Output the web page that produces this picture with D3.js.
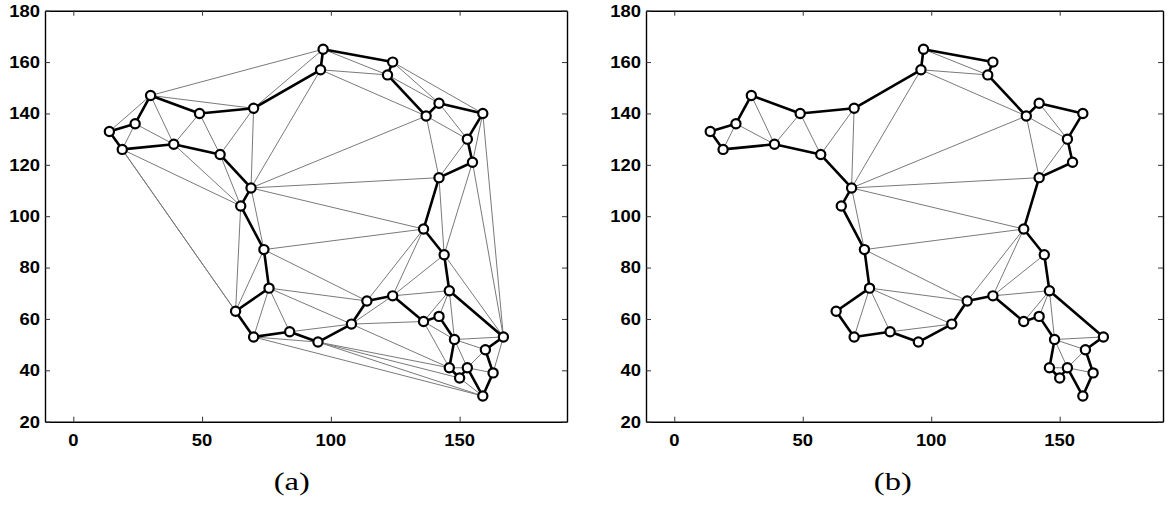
<!DOCTYPE html>
<html>
<head>
<meta charset="utf-8">
<script src="https://cdn.jsdelivr.net/npm/d3@7"></script>
<style>
  html, body { margin: 0; padding: 0; background: #fff; }
  svg { display: block; }
</style>
</head>
<body>
<svg id="fig" width="1172" height="506"></svg>
<script>
// Point set, listed in boundary (tour) order of the characteristic shape
const px = [97, 124, 122, 137, 142, 159, 153, 155, 142, 136, 144, 146, 167, 160, 163, 159,
            153, 150, 146, 148, 142, 136, 124, 114, 108, 95, 84, 70, 63, 76, 74, 65,
            69, 57, 39, 19, 14, 24, 30, 49, 70, 96];
const py = [165, 160, 155, 139, 144, 140, 130, 121, 115, 95, 85, 71, 53, 48, 39, 30,
            41, 37, 41, 52, 61, 59, 69, 67, 58, 51, 55, 53, 63, 72, 87, 104,
            111, 124, 128, 126, 133, 136, 147, 140, 142, 157];

const xTicks = [0, 50, 100, 150];
const yTicks = [20, 40, 60, 80, 100, 120, 140, 160, 180];
const yDomain = [20, 180];
const captions = ["(a)", "(b)"];

const pts = px.map((x, i) => [x, py[i]]);
const n = pts.length;

// Delaunay triangulation edges (unique)
const del = d3.Delaunay.from(pts);
const allEdges = [];
for (let e = 0; e < del.halfedges.length; e++) {
  const o = del.halfedges[e];
  if (o === -1 || e > o) {
    const a = del.triangles[e];
    const b = del.triangles[e % 3 === 2 ? e - 2 : e + 1];
    allEdges.push([a, b]);
  }
}
// edges strictly inside the shape (boundary edges are drawn by the outline)
const isBoundary = ([a, b]) => Math.abs(a - b) === 1 || Math.abs(a - b) === n - 1;
const innerEdges = allEdges.filter(([a, b]) => {
  if (isBoundary([a, b])) return false;
  const m = [(pts[a][0] + pts[b][0]) / 2, (pts[a][1] + pts[b][1]) / 2];
  return d3.polygonContains(pts, m);
});

const svg = d3.select("#fig");

const panels = [
  { left: 45, right: 567, xMax: 191.7, edges: allEdges, caption: captions[0] },
  { left: 646, right: 1163, xMax: 190.2, edges: innerEdges, caption: captions[1] }
];
const plotTop = 10.7, plotBottom = 421.7;

panels.forEach(p => {
  const x = d3.scaleLinear().domain([-11, p.xMax]).range([p.left, p.right]);
  const y = d3.scaleLinear().domain(yDomain).range([plotBottom, plotTop]);
  const g = svg.append("g");

  // triangulation edges
  g.append("g").selectAll("line").data(p.edges).join("line")
    .attr("x1", d => x(pts[d[0]][0])).attr("y1", d => y(pts[d[0]][1]))
    .attr("x2", d => x(pts[d[1]][0])).attr("y2", d => y(pts[d[1]][1]))
    .attr("stroke", "#7a7a7a").attr("stroke-width", 1);

  // shape boundary
  g.append("path")
    .attr("d", d3.line().x(d => x(d[0])).y(d => y(d[1]))(pts) + "Z")
    .attr("fill", "none").attr("stroke", "#000").attr("stroke-width", 2.6)
    .attr("stroke-linejoin", "round");

  // points
  g.append("g").selectAll("circle").data(pts).join("circle")
    .attr("cx", d => x(d[0])).attr("cy", d => y(d[1])).attr("r", 4.6)
    .attr("fill", "#fff").attr("stroke", "#000").attr("stroke-width", 2.2);

  // axes box with inward ticks on all four sides
  const axB = d3.axisBottom(x).tickValues(xTicks).tickSizeInner(-5).tickSizeOuter(0).tickFormat("");
  const axT = d3.axisTop(x).tickValues(xTicks).tickSizeInner(-5).tickSizeOuter(0).tickFormat("");
  const axL = d3.axisLeft(y).tickValues(yTicks).tickSizeInner(-5).tickSizeOuter(0).tickFormat("");
  const axR = d3.axisRight(y).tickValues(yTicks).tickSizeInner(-5).tickSizeOuter(0).tickFormat("");
  [[axB, `translate(0,${plotBottom})`], [axT, `translate(0,${plotTop})`],
   [axL, `translate(${p.left},0)`], [axR, `translate(${p.right},0)`]].forEach(([ax, tr]) => {
    const a = g.append("g").attr("transform", tr).call(ax);
    a.selectAll("path").attr("stroke", "#000").attr("stroke-width", 1.4);
    a.selectAll("line").attr("stroke", "#333").attr("stroke-width", 1);
  });

  // tick labels
  const lab = "font-family:'Liberation Sans',Arial,Helvetica,sans-serif;font-weight:bold;font-size:16px;fill:#000";
  xTicks.forEach(v => {
    g.append("text").attr("transform", `translate(${x(v)},445.5) scale(1.15,1)`)
      .attr("text-anchor", "middle").attr("style", lab).text(v);
  });
  yTicks.forEach(v => {
    g.append("text").attr("transform", `translate(${p.left - 5},${y(v) + 5.8}) scale(1.15,1)`)
      .attr("text-anchor", "end").attr("style", lab).text(v);
  });

  // panel caption
  g.append("text").attr("transform", `translate(${x(0) + 218.5},490) scale(1.25,1)`)
    .attr("text-anchor", "middle")
    .attr("style", "font-family:'Liberation Serif','Times New Roman',Times,serif;font-size:26px;fill:#000")
    .text(p.caption);
});
</script>
</body>
</html>
